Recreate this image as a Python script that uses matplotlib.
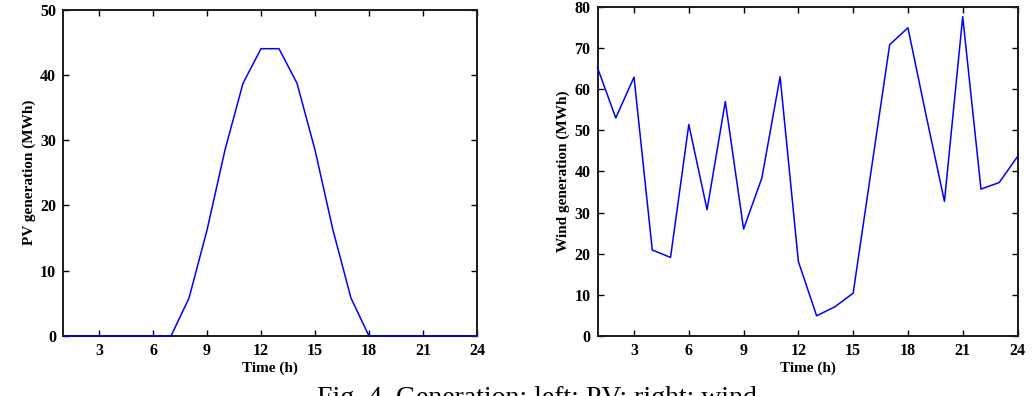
import matplotlib
matplotlib.use("Agg")
import matplotlib.pyplot as plt

hours = list(range(1, 25))
pv = [0, 0, 0, 0, 0, 0, 0, 5.8, 16.2, 28.5, 38.7, 44, 44, 38.7, 28.5, 16.2, 5.8, 0, 0, 0, 0, 0, 0, 0]
wind = [65.2, 53.0, 62.9, 20.9, 19.1, 51.4, 30.7, 57.0, 26.0, 38.4, 63.0, 18.1, 4.9, 7.1, 10.4,
        40.6, 70.8, 74.9, 53.5, 32.7, 77.6, 35.7, 37.3, 43.6]
xticks = [3, 6, 9, 12, 15, 18, 21, 24]
pv_yticks = [0, 10, 20, 30, 40, 50]
wind_yticks = [0, 10, 20, 30, 40, 50, 60, 70, 80]

plt.rcParams['font.family'] = ['Liberation Serif', 'DejaVu Serif']

fig = plt.figure(figsize=(10.33, 3.96), dpi=100)
W, H = 1033, 396

def make_ax(l, t, r, b):
    return fig.add_axes([l / W, 1 - b / H, (r - l) / W, (b - t) / H])

ax1 = make_ax(63, 9.5, 477, 336)
ax2 = make_ax(597.5, 6.8, 1017.5, 336)

def style(ax, y, yticks, ylabel):
    ax.plot(hours, y, color='#0000ff', lw=1.1, zorder=3, clip_on=False)
    ax.set_xlim(1, 24)
    ax.set_ylim(yticks[0], yticks[-1])
    ax.set_xticks(xticks)
    ax.set_yticks(yticks)
    ax.tick_params(direction='in', top=True, right=True, length=4, width=1.0,
                   labelsize=11.5, pad=5)
    for lab in ax.get_xticklabels() + ax.get_yticklabels():
        lab.set_fontweight('bold')
    for s in ax.spines.values():
        s.set_linewidth(1.4)
        s.set_color('#1a1a1a')
    ax.set_xlabel('Time (h)', fontsize=11, fontweight='bold', labelpad=2)
    ax.set_ylabel(ylabel, fontsize=11, fontweight='bold', labelpad=3)

style(ax1, pv, pv_yticks, 'PV generation (MWh)')
style(ax2, wind, wind_yticks, 'Wind generation (MWh)')

fig.text(317 / W, 1 - 386 / H, 'Fig. 4. Generation: left: PV; right: wind', fontsize=20,
         va='top', ha='left')

fig.savefig('out.png', dpi=100)
